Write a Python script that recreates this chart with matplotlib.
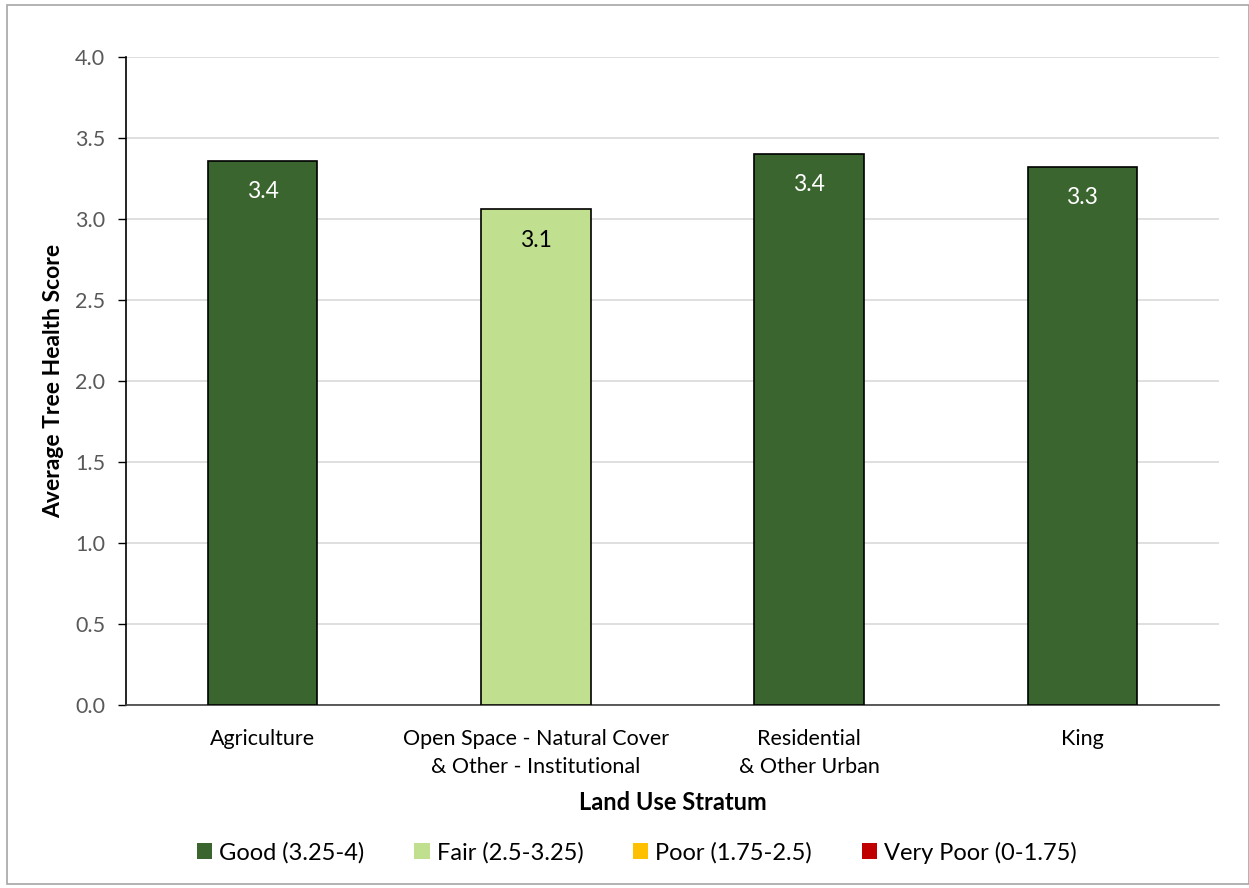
import matplotlib
matplotlib.use("Agg")
import matplotlib.pyplot as plt
from matplotlib.patches import Patch, Rectangle

categories = ["Agriculture", "Open Space - Natural Cover\n& Other - Institutional",
              "Residential\n& Other Urban", "King"]
scores = [3.36, 3.06, 3.40, 3.32]
classes = ["Good", "Fair", "Good", "Good"]

legend_labels = ["Good (3.25-4)", "Fair (2.5-3.25)", "Poor (1.75-2.5)", "Very Poor (0-1.75)"]
class_colors = {"Good": "#3A652E", "Fair": "#C0DF8F", "Poor": "#FFC000", "Very Poor": "#C00000"}
label_colors = {"Good": "white", "Fair": "black"}
yticks = [0.0, 0.5, 1.0, 1.5, 2.0, 2.5, 3.0, 3.5, 4.0]

plt.rcParams["font.family"] = ["Lato", "DejaVu Sans"]

fig = plt.figure(figsize=(12.49, 8.88), dpi=100)
ax = fig.add_axes([0.1009, 0.2061, 0.8751, 0.7297])

x = range(len(categories))
bars = ax.bar(x, scores, width=0.40, color=[class_colors[c] for c in classes],
              edgecolor="black", linewidth=1.2, zorder=3)

for rect, val, cls in zip(bars, scores, classes):
    ax.text(rect.get_x() + rect.get_width() / 2, val - 0.19, f"{val:.1f}",
            ha="center", va="center", fontsize=16.5, color=label_colors[cls], zorder=4)

ax.set_xlim(-0.5, 3.5)
ax.set_ylim(0, 4.0)
ax.set_yticks(yticks)
ax.set_yticklabels([f"{t:.1f}" for t in yticks])
ax.set_xticks(list(x))
ax.set_xticklabels(categories, fontsize=15.5, linespacing=1.55)
ax.tick_params(axis="y", labelsize=15.5, labelcolor="#595959", color="black", length=6,
               width=1, direction="out", pad=9)
ax.tick_params(axis="x", length=0, pad=17, labelcolor="black")
ax.grid(axis="y", color="#D9D9D9", linewidth=1.2, zorder=0)
ax.set_axisbelow(True)

for side in ["top", "right"]:
    ax.spines[side].set_visible(False)
ax.spines["left"].set_color("black")
ax.spines["bottom"].set_color("#404040")
ax.spines["left"].set_linewidth(1.2)
ax.spines["bottom"].set_linewidth(1.2)

ax.set_ylabel("Average Tree Health Score", fontsize=16.5, fontweight="bold", labelpad=8)
ax.set_xlabel("Land Use Stratum", fontsize=17, fontweight="bold", labelpad=10)

handles = [Patch(facecolor=class_colors[k], edgecolor="none") for k in class_colors]
fig.legend(handles, legend_labels, loc="center", bbox_to_anchor=(0.51, 0.04), ncol=4,
           frameon=False, fontsize=17, handlelength=0.65, handleheight=0.65,
           handletextpad=0.3, columnspacing=2.1)

fig.patches.append(Rectangle((0.006, 0.004), 0.994, 0.99, transform=fig.transFigure,
                             fill=False, edgecolor="#A6A6A6", linewidth=1.2))

fig.savefig("out.png", dpi=100)
